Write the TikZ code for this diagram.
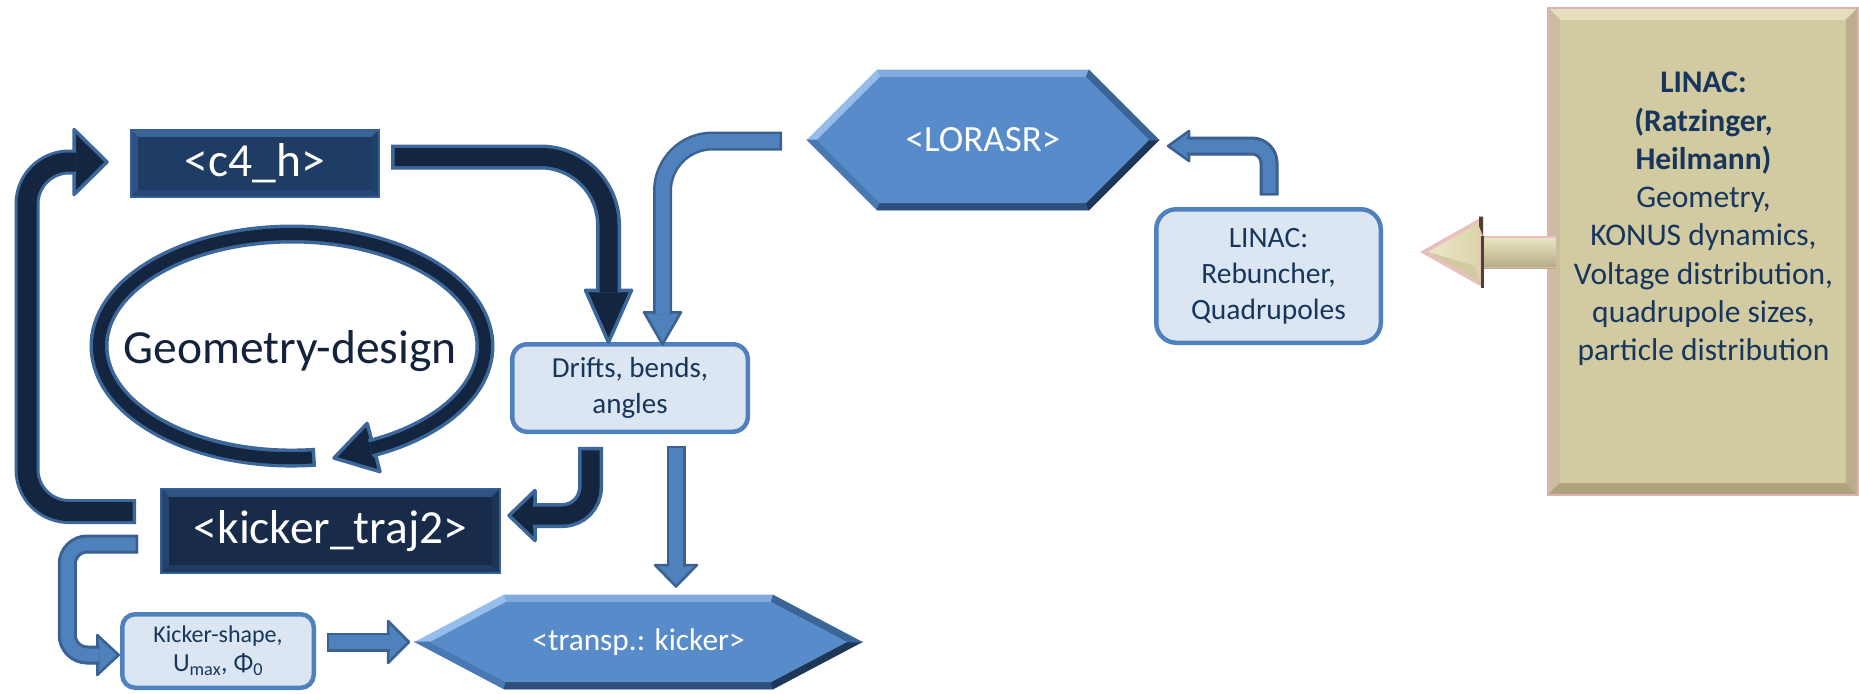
\documentclass[tikz,border=0pt]{standalone}
\usepackage{fontspec}
\setmainfont{Carlito}
\usetikzlibrary{calc,backgrounds}

% arrows
\definecolor{dcore}{HTML}{14263F}
\definecolor{dline}{HTML}{3C679B}
\definecolor{mcore}{HTML}{4F81BD}
\definecolor{mline}{HTML}{3A6191}
% light boxes and text
\definecolor{lightfill}{HTML}{DCE6F2}
\definecolor{lightline}{HTML}{4F81BD}
\definecolor{txtdark}{HTML}{17365D}
\definecolor{geomtxt}{HTML}{13233C}
% <c4_h> box
\definecolor{cfill}{HTML}{1F3C64}
\definecolor{ctop}{HTML}{3B6497}
\definecolor{cleft}{HTML}{2D5386}
\definecolor{cbot}{HTML}{254777}
\definecolor{cright}{HTML}{21416D}
\definecolor{cedge}{HTML}{345E94}
% <kicker_traj2> box
\definecolor{kfill}{HTML}{182B4A}
\definecolor{ktop}{HTML}{2F5383}
\definecolor{kleft}{HTML}{25446F}
\definecolor{kbot}{HTML}{1F3B62}
\definecolor{kright}{HTML}{1B3457}
\definecolor{kedge}{HTML}{345E94}
% hexagons
\definecolor{hfill}{HTML}{578BCA}
\definecolor{htop}{HTML}{82AADD}
\definecolor{hul}{HTML}{97BDEA}
\definecolor{hll}{HTML}{4A79B2}
\definecolor{hbot}{HTML}{2E4E7B}
\definecolor{hlr}{HTML}{1E3658}
\definecolor{hur}{HTML}{3C6597}
% LINAC panel
\definecolor{kkfill}{HTML}{D2CAA0}
\definecolor{kktop}{HTML}{E4DEBD}
\definecolor{kkleft}{HTML}{CDBBA3}
\definecolor{kkright}{HTML}{BBAD8E}
\definecolor{kkbot}{HTML}{AFA37C}
\definecolor{kkedge}{HTML}{DDB2B2}
% cream arrow
\definecolor{cream}{HTML}{DAD4A9}
\definecolor{creamlight}{HTML}{ECE8C8}
\definecolor{creampink}{HTML}{E9BFBE}
\definecolor{creamdark}{HTML}{B4AA82}
\definecolor{creambrown}{HTML}{4E4034}

% triangular head of a block arrow: style, tip, base centre, half width
\newcommand\blockhead[4]{%
  \filldraw[#1] (#2) -- ($(#3)!#4!90:(#2)$) -- ($(#3)!#4!-90:(#2)$) -- cycle;}

% bevelled rectangle behind a node: node, inset, top, left, bottom, right, fill, edge
\newcommand\bevelbox[8]{%
  \path[facet=#3] (#1.north west) -- (#1.north east) -- ([shift={(-#2,#2)}]#1.north east) -- ([shift={(#2,#2)}]#1.north west) -- cycle;
  \path[facet=#4] (#1.north west) -- ([shift={(#2,#2)}]#1.north west) -- ([shift={(#2,-#2)}]#1.south west) -- (#1.south west) -- cycle;
  \path[facet=#5] (#1.south west) -- ([shift={(#2,-#2)}]#1.south west) -- ([shift={(-#2,-#2)}]#1.south east) -- (#1.south east) -- cycle;
  \path[facet=#6] (#1.north east) -- (#1.south east) -- ([shift={(-#2,-#2)}]#1.south east) -- ([shift={(-#2,#2)}]#1.north east) -- cycle;
  \fill[#7] ([shift={(#2,#2)}]#1.north west) rectangle ([shift={(-#2,-#2)}]#1.south east);
  \draw[#8] (#1.north west) rectangle (#1.south east);
}

% bevelled hexagon behind a node: node, slant, inset, inner tip shift, inner corner shift
\newcommand\hexbevel[5]{%
  \coordinate (hxW) at (#1.west);
  \coordinate (hxNW) at ([xshift=#2]#1.north west);
  \coordinate (hxNE) at ([xshift=-#2]#1.north east);
  \coordinate (hxE) at (#1.east);
  \coordinate (hxSE) at ([xshift=-#2]#1.south east);
  \coordinate (hxSW) at ([xshift=#2]#1.south west);
  \coordinate (inW) at ([xshift=#4]hxW);
  \coordinate (inNW) at ([shift={(#5,#3)}]hxNW);
  \coordinate (inNE) at ([shift={(-#5,#3)}]hxNE);
  \coordinate (inE) at ([xshift=-#4]hxE);
  \coordinate (inSE) at ([shift={(-#5,-#3)}]hxSE);
  \coordinate (inSW) at ([shift={(#5,-#3)}]hxSW);
  \path[facet=htop] (hxNW) -- (hxNE) -- (inNE) -- (inNW) -- cycle;
  \path[facet=hul] (hxW) -- (hxNW) -- (inNW) -- (inW) -- cycle;
  \path[facet=hll] (hxW) -- (inW) -- (inSW) -- (hxSW) -- cycle;
  \path[facet=hbot] (hxSW) -- (inSW) -- (inSE) -- (hxSE) -- cycle;
  \path[facet=hlr] (hxE) -- (hxSE) -- (inSE) -- (inE) -- cycle;
  \path[facet=hur] (hxNE) -- (hxE) -- (inE) -- (inNE) -- cycle;
  \fill[hfill] (inW) -- (inNW) -- (inNE) -- (inE) -- (inSE) -- (inSW) -- cycle;
}

\begin{document}
\begin{tikzpicture}[x=1pt,y=-1pt,
  every node/.style={inner sep=0pt, outer sep=0pt},
  facet/.style={fill=#1, draw=#1, line width=0.6},
  darkbox/.style={text=white, font=\fontsize{47.5}{57}\selectfont},
  hexnode/.style={text=white},
  lightbox/.style={draw=lightline, line width=4.5, fill=lightfill, text=txtdark, align=center},
  dshaft/.style={draw=dcore, line width=18, shorten <=3.5, preaction={draw=dline, line width=25, shorten <=0pt}},
  dring/.style={draw=dcore, line width=12, shorten <=3.5, preaction={draw=dline, line width=19, shorten <=0pt}},
  mshaft/.style={draw=mcore, line width=14, shorten <=2.5, preaction={draw=mline, line width=19, shorten <=0pt}},
  dhead/.style={fill=dcore, draw=dline, line width=3.5, line join=round},
  mhead/.style={fill=mcore, draw=mline, line width=2.5, line join=round},
]
\useasboundingbox (0,0) rectangle (1859,693);

% ---------- nodes ----------
\node[darkbox, minimum width=248, minimum height=67] (c4) at (255,163.5) {<c4\_h>};
\node[darkbox, minimum width=339, minimum height=84] (ktraj) at (330.5,531) {<kicker\_traj2>};
\node[text=geomtxt, font=\fontsize{47.5}{57}\selectfont] (geom) at (290,351) {Geometry-design};

\node[lightbox, minimum width=235.5, minimum height=87.5, rounded corners=15,
      font=\fontsize{29}{36}\selectfont] (drifts) at (630,388) {Drifts, bends,\\angles};
\node[lightbox, minimum width=191.5, minimum height=73.5, rounded corners=13,
      font=\fontsize{24}{29}\selectfont] (kshape) at (218,651)
      {Kicker-shape,\\{\fontsize{26}{29}\selectfont U\textsubscript{max}, Φ\textsubscript{0}}};
\node[lightbox, minimum width=224.5, minimum height=133.5, rounded corners=20,
      font=\fontsize{29.5}{36}\selectfont] (linacq) at (1268.5,276) {LINAC:\\Rebuncher,\\Quadrupoles};

\node[hexnode, minimum width=352, minimum height=140, font=\fontsize{37}{44}\selectfont] (lorasr) at (983,140) {<LORASR>};
\node[hexnode, minimum width=447, minimum height=94, font=\fontsize{31.3}{38}\selectfont] (transp) at (638.5,642) {<transp.: kicker>};

\node[minimum width=310, minimum height=487] (linacbox) at (1703,251.5) {};
\node[font=\fontsize{31.5}{38.3}\selectfont, text=txtdark, align=center] (linactext)
  at ([shift={(0.5,-32.5)}]linacbox.center)
  {\textbf{LINAC:}\\\textbf{(Ratzinger,}\\\textbf{Heilmann)}\\Geometry,\\KONUS dynamics,\\Voltage distribution,\\quadrupole sizes,\\particle distribution};

% ---------- shaded bodies behind the texts ----------
\begin{scope}[on background layer]
  \fill[white] (0,0) rectangle (1859,693);
  \bevelbox{c4}{7}{ctop}{cleft}{cbot}{cright}{cfill}{cedge, line width=1.5}
  \bevelbox{ktraj}{8}{ktop}{kleft}{kbot}{kright}{kfill}{kedge, line width=1.5}
  \hexbevel{lorasr}{70}{7}{9.9}{2.9}
  \hexbevel{transp}{89}{7}{15}{1.75}
  \bevelbox{linacbox}{12}{kktop}{kkleft}{kkbot}{kkright}{kkfill}{kkedge, line width=1.5}
\end{scope}

% ---------- design loop round the label ----------
\coordinate (ec) at (292,346);
\coordinate (h3) at (334,458);
\coordinate (h2) at (373.6,447.5);
\blockhead{dhead}{h3}{h2}{25pt}
\draw[dring] (315.5,457.2) arc[start angle=83, end angle=426, x radius=193, y radius=112];

% ---------- <kicker_traj2> back to <c4_h> ----------
\coordinate (l0) at ([shift={(-25,-19.5)}]ktraj.west);
\coordinate (l3) at ([shift={(-24,-1.5)}]c4.west);
\coordinate (l2) at ([xshift=-33]l3);
\blockhead{dhead}{l3}{l2}{32.5pt}
\draw[dshaft, line width=19, rounded corners=42] (l0) -| ([xshift=-47]l2) -- ([xshift=2]l2);

% ---------- <c4_h> to drifts ----------
\coordinate (a0) at ([shift={(12,-6.5)}]c4.east);
\coordinate (a3) at ([shift={(-21.5,-2)}]drifts.north);
\coordinate (a2) at ([shift={(0,-52)}]a3);
\blockhead{dhead}{a3}{a2}{23pt}
\draw[dshaft, rounded corners=68] (a0) -| ([shift={(0,2)}]a2);

% ---------- <LORASR> to drifts ----------
\coordinate (b0) at ([shift={(-25,1)}]lorasr.west);
\coordinate (b3) at ([shift={(32.5,0)}]drifts.north);
\coordinate (b2) at ([shift={(0,-32)}]b3);
\blockhead{mhead}{b3}{b2}{18.5pt}
\draw[mshaft, rounded corners=50] (b0) -| ([shift={(0,2)}]b2);

% ---------- drifts to <kicker_traj2> ----------
\coordinate (c0) at ([shift={(-39.5,15)}]drifts.south);
\coordinate (c3) at ([shift={(9,-15.5)}]ktraj.east);
\coordinate (c2) at ([xshift=26]c3);
\blockhead{dhead}{c3}{c2}{25pt}
\draw[dshaft, rounded corners=28] (c0) |- ([xshift=-2]c2);

% ---------- drifts to <transp.: kicker> ----------
\coordinate (d0) at ([shift={(46,14)}]drifts.south);
\coordinate (d3) at ([shift={(37.5,-8.5)}]transp.north);
\coordinate (d2) at ([shift={(0,-21.5)}]d3);
\blockhead{mhead}{d3}{d2}{21pt}
\draw[mshaft] (d0) -- ([shift={(0,2)}]d2);

% ---------- <kicker_traj2> to kicker shape ----------
\coordinate (e0) at ([shift={(-23,13)}]ktraj.west);
\coordinate (e3) at ([shift={(-3.5,4)}]kshape.west);
\coordinate (e2) at ([xshift=-21.5]e3);
\blockhead{mhead}{e3}{e2}{20pt}
\draw[mshaft, line width=13, preaction={draw=mline, line width=18, shorten <=0pt}, rounded corners=20]
  (e0) -| ([xshift=-30]e2) -- ([xshift=2]e2);

% ---------- kicker shape to <transp.: kicker> ----------
\coordinate (f0) at ([shift={(13,-9)}]kshape.east);
\coordinate (f3) at ([xshift=-6]transp.west);
\coordinate (f2) at ([xshift=-21]f3);
\blockhead{mhead}{f3}{f2}{21pt}
\draw[mshaft] (f0) -- ([xshift=2]f2);

% ---------- LINAC rebuncher to <LORASR> ----------
\coordinate (g0) at ([shift={(0.5,-14)}]linacq.north);
\coordinate (g3) at ([shift={(9,6)}]lorasr.east);
\coordinate (g2) at ([xshift=21]g3);
\blockhead{mhead}{g3}{g2}{15pt}
\draw[mshaft, line width=13, preaction={draw=mline, line width=18, shorten <=0pt}, rounded corners=17]
  (g0) |- ([xshift=-2]g2);

% ---------- LINAC panel to rebuncher (raised arrow) ----------
\coordinate (k3) at ([shift={(-128,0.5)}]linacbox.west);
\coordinate (k2) at ([xshift=63]k3);
\shade[top color=creamlight, middle color=cream, bottom color=creamdark]
  ([shift={(0,-16)}]k2) rectangle ([shift={(73,16)}]k2);
\draw[creampink, line width=2] ([shift={(0,-15)}]k2) -- ([shift={(73,-15)}]k2);
\draw[creampink!70!creamdark, line width=1.5] ([shift={(0,15.5)}]k2) -- ([shift={(73,15.5)}]k2);
\fill[creampink] (k3) -- ([shift={(0,-35.5)}]k2) -- ([shift={(0,35.5)}]k2) -- cycle;
\shade[left color=creamlight, right color=cream]
  ([xshift=8]k3) -- ([shift={(-3,-30)}]k2) -- ([shift={(-3,30)}]k2) -- cycle;
\fill[cream!75!creamdark] ([xshift=8]k3) -- ([shift={(-3,30)}]k2) -- ([shift={(-8,14)}]k2) -- cycle;
\fill[creambrown] ([shift={(-4,-35.5)}]k2) -- ([shift={(0,-35.5)}]k2) -- ([shift={(0,-16)}]k2) -- ([shift={(-4,-26)}]k2) -- cycle;
\draw[creambrown, line width=3] ([shift={(-1,-16)}]k2) -- ([shift={(-1,35.5)}]k2);

\end{tikzpicture}
\end{document}
